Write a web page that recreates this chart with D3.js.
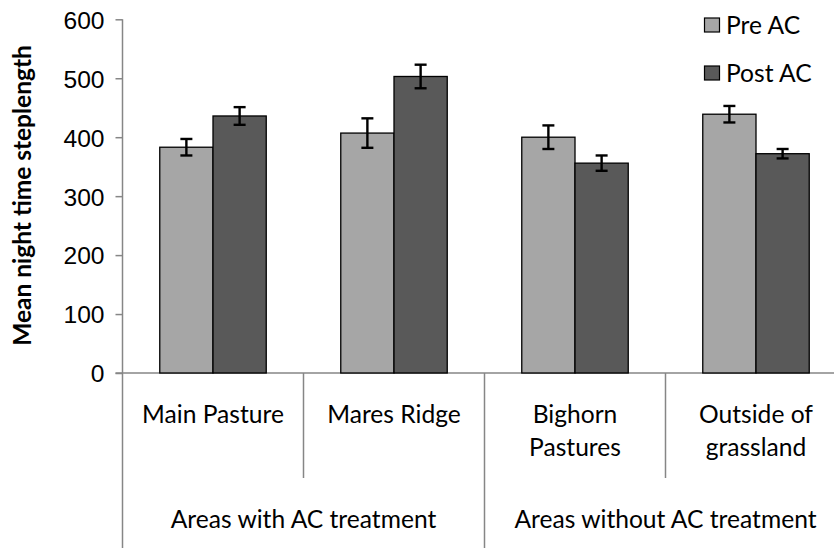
<!DOCTYPE html>
<html>
<head>
<meta charset="utf-8">
<script src="https://cdn.jsdelivr.net/npm/d3@7/dist/d3.min.js"></script>
<style>
  html, body { margin: 0; padding: 0; background: #fff; }
  svg { display: block; font-family: Lato, "Open Sans", sans-serif; }
</style>
</head>
<body>
<svg id="chart" width="834" height="548"></svg>
<script>
// Sites, grouped by treatment
const sites = ["Main Pasture", "Mares Ridge", "Bighorn Pastures", "Outside of grassland"];
const siteLines = [["Main Pasture"], ["Mares Ridge"], ["Bighorn", "Pastures"], ["Outside of", "grassland"]];
const groups = ["Areas with AC treatment", "Areas without AC treatment"];
const groupSites = [2, 2];

// Series: mean night time step length and error bar half-widths
const seriesNames = ["Pre AC", "Post AC"];
const preValues = [383, 407, 400, 439];
const postValues = [436, 503, 356, 372];
const preErrors = [14, 25, 20, 14];
const postErrors = [15, 20, 13, 8];

const yTicks = [0, 100, 200, 300, 400, 500, 600];
const yTitle = "Mean night time steplength";

const colors = ["#a6a6a6", "#595959"];
const axisColor = "#868686";
const fontSize = "24.6px";

const svg = d3.select("#chart");
const plotLeft = 122.5, plotRight = 846.5, plotTop = 19.3, plotBottom = 373;

const x = d3.scaleBand().domain(sites).range([plotLeft, plotRight]).paddingInner(0).paddingOuter(0);
const inner = d3.scaleBand().domain(seriesNames).range([0, x.bandwidth()]).paddingInner(0).paddingOuter(0.7);
const y = d3.scaleLinear().domain([0, 600]).range([plotBottom, plotTop]);

// Y axis
const yAxis = d3.axisLeft(y).tickValues(yTicks).tickSize(7).tickPadding(11);
const gy = svg.append("g").attr("transform", `translate(${plotLeft},0)`).call(yAxis);
gy.select(".domain").remove();
gy.selectAll(".tick line").attr("stroke", axisColor).attr("stroke-width", 1.5);
gy.selectAll(".tick text").attr("fill", "#000").style("font-size", fontSize).attr("dy", "0.36em");
svg.append("line").attr("x1", plotLeft).attr("x2", plotLeft).attr("y1", plotTop).attr("y2", 548)
  .attr("stroke", axisColor).attr("stroke-width", 1.5);

// Horizontal category axis
svg.append("line").attr("x1", plotLeft - 7).attr("x2", 834).attr("y1", plotBottom).attr("y2", plotBottom)
  .attr("stroke", axisColor).attr("stroke-width", 1.5);

// Bars
const data = sites.map((s, i) => [
  { site: s, series: seriesNames[0], v: preValues[i], e: preErrors[i], c: colors[0] },
  { site: s, series: seriesNames[1], v: postValues[i], e: postErrors[i], c: colors[1] }
]).flat();

svg.append("g").selectAll("rect").data(data).join("rect")
  .attr("x", d => x(d.site) + inner(d.series))
  .attr("y", d => y(d.v))
  .attr("width", inner.bandwidth())
  .attr("height", d => y(0) - y(d.v))
  .attr("fill", d => d.c)
  .attr("stroke", "#000").attr("stroke-width", 1.3);

// Error bars
const eb = svg.append("g").selectAll("g").data(data).join("g")
  .attr("stroke", "#000").attr("stroke-width", 2.4);
const cx = d => x(d.site) + inner(d.series) + inner.bandwidth() / 2;
eb.append("line").attr("x1", cx).attr("x2", cx).attr("y1", d => y(d.v + d.e)).attr("y2", d => y(d.v - d.e));
eb.append("line").attr("x1", d => cx(d) - 6).attr("x2", d => cx(d) + 6).attr("y1", d => y(d.v + d.e)).attr("y2", d => y(d.v + d.e));
eb.append("line").attr("x1", d => cx(d) - 6).attr("x2", d => cx(d) + 6).attr("y1", d => y(d.v - d.e)).attr("y2", d => y(d.v - d.e));

// Category dividers and labels
sites.forEach((s, i) => {
  if (i > 0) {
    const isGroupEdge = i === groupSites[0];
    svg.append("line").attr("x1", x(s)).attr("x2", x(s)).attr("y1", plotBottom).attr("y2", isGroupEdge ? 548 : 478)
      .attr("stroke", axisColor).attr("stroke-width", 1.5);
  }
  const lines = siteLines[i];
  const t = svg.append("text").attr("text-anchor", "middle").style("font-size", fontSize).attr("fill", "#000");
  lines.forEach((ln, k) => {
    t.append("tspan").attr("x", x(s) + x.bandwidth() / 2)
      .attr("y", 423 + k * 32.5).text(ln);
  });
});

// Treatment group labels, centred on each group's span
let start = 0;
groups.forEach((g, gi) => {
  const s0 = sites[start], s1 = sites[start + groupSites[gi] - 1];
  const xa = x(s0), xb = x(s1) + x.bandwidth();
  svg.append("text").attr("x", (xa + xb) / 2).attr("y", 528)
    .attr("text-anchor", "middle").style("font-size", fontSize).attr("fill", "#000").text(g);
  start += groupSites[gi];
});

// Y axis title
svg.append("text").attr("transform", `translate(22,195.5) rotate(-90)`)
  .attr("text-anchor", "middle").attr("dy", "0.36em")
  .style("font-size", "24.5px").style("font-weight", "bold").attr("fill", "#000").text(yTitle);

// Legend
const legend = svg.append("g");
seriesNames.forEach((n, i) => {
  const ly = 25 + i * 48;
  legend.append("rect").attr("x", 704.5).attr("y", ly - 7).attr("width", 15).attr("height", 14)
    .attr("fill", colors[i]).attr("stroke", "#000").attr("stroke-width", 1.2);
  legend.append("text").attr("x", 726).attr("y", ly).attr("dy", "0.36em")
    .style("font-size", fontSize).attr("fill", "#000").text(n);
});
</script>
</body>
</html>
